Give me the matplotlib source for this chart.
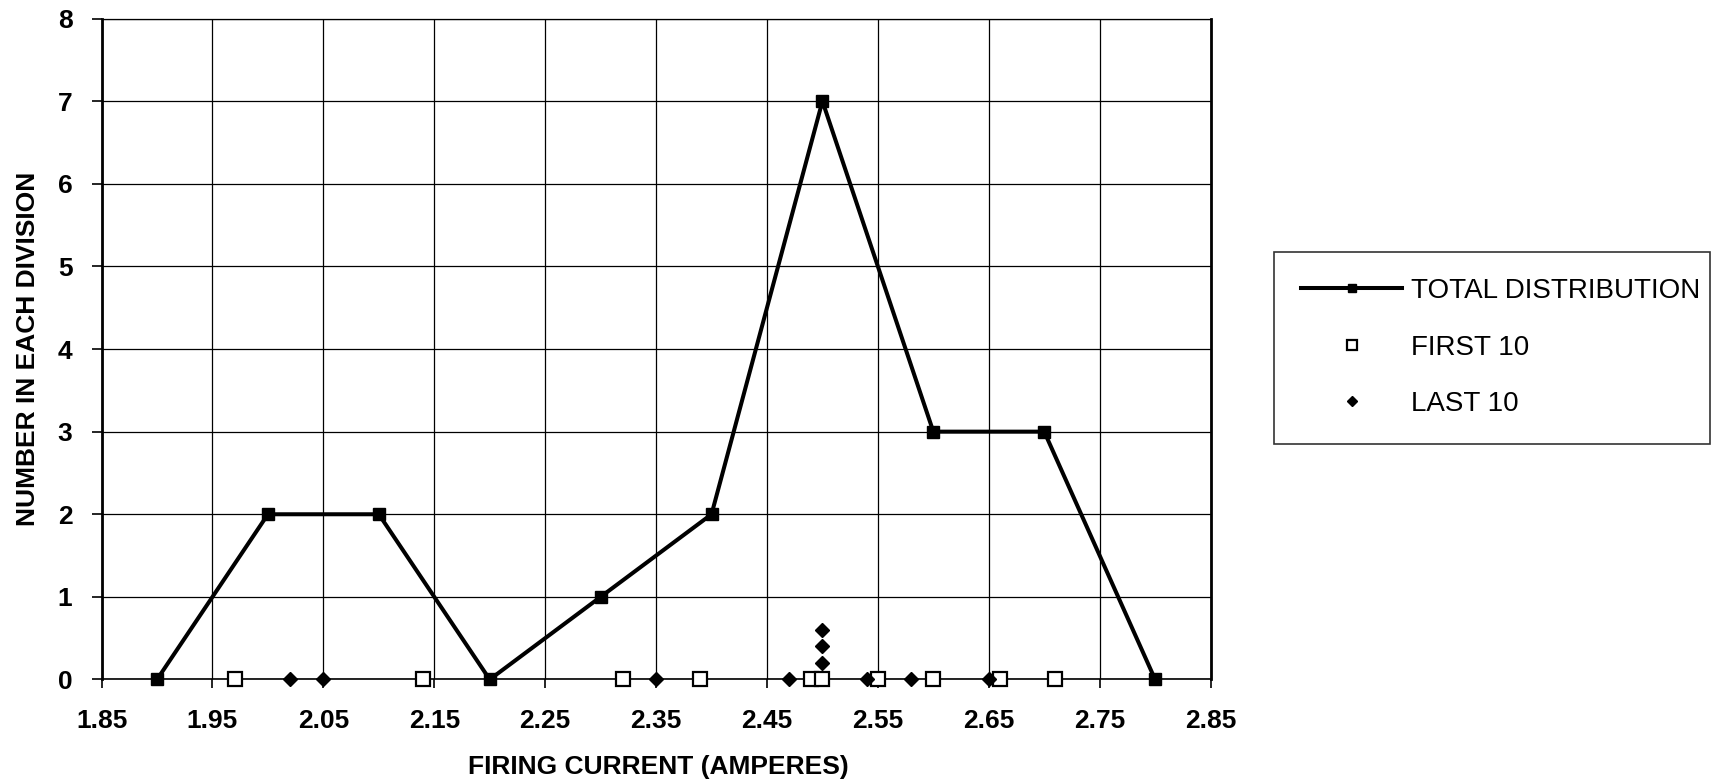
import matplotlib
matplotlib.use("Agg")
import matplotlib.pyplot as plt
from matplotlib.ticker import FixedLocator

plt.rcParams['font.family'] = ['Liberation Sans', 'DejaVu Sans']

# Data
total_x = [1.90, 2.00, 2.10, 2.20, 2.30, 2.40, 2.50, 2.60, 2.70, 2.80]
total_y = [0, 2, 2, 0, 1, 2, 7, 3, 3, 0]

first10_x = [1.97, 2.14, 2.32, 2.39, 2.49, 2.50, 2.55, 2.60, 2.66, 2.71]
first10_y = [0, 0, 0, 0, 0, 0, 0, 0, 0, 0]

last10_x = [2.02, 2.05, 2.35, 2.47, 2.50, 2.50, 2.50, 2.54, 2.58, 2.65]
last10_y = [0, 0, 0, 0, 0.2, 0.4, 0.6, 0, 0, 0]

x_ticks = [1.85, 1.95, 2.05, 2.15, 2.25, 2.35, 2.45, 2.55, 2.65, 2.75, 2.85]
y_ticks = [0, 1, 2, 3, 4, 5, 6, 7, 8]

labels = ["TOTAL DISTRIBUTION", "FIRST 10", "LAST 10"]

fig = plt.figure(figsize=(17.13, 7.84), dpi=100)
ax = fig.add_axes([0.0593, 0.1333, 0.7067 - 0.0593, 0.9763 - 0.1333])

ax.set_xlim(1.85, 2.85)
ax.set_ylim(0, 8)
ax.xaxis.set_major_locator(FixedLocator(x_ticks))
ax.yaxis.set_major_locator(FixedLocator(y_ticks))
ax.set_xticklabels([f"{v:.2f}" for v in x_ticks])
ax.set_yticklabels([str(v) for v in y_ticks])

ax.grid(True, color='black', linewidth=0.9)
ax.set_axisbelow(True)

for s in ['left', 'right']:
    ax.spines[s].set_linewidth(2.0)
ax.spines['top'].set_linewidth(0.9)
ax.spines['bottom'].set_linewidth(1.2)

ax.tick_params(axis='y', direction='out', length=7, width=1.2, pad=14,
               labelsize=19)
ax.tick_params(axis='x', direction='out', length=6.5, width=1.2, pad=15,
               labelsize=19)
for lab in ax.get_xticklabels() + ax.get_yticklabels():
    lab.set_fontweight('bold')

l1, = ax.plot(total_x, total_y, color='black', linewidth=2.9, marker='s',
              markersize=8.5, markerfacecolor='black', markeredgecolor='black',
              clip_on=False, zorder=4, label=labels[0])
l2, = ax.plot(first10_x, first10_y, linestyle='none', marker='s', markersize=10,
              markerfacecolor='white', markeredgecolor='black', markeredgewidth=1.6,
              clip_on=False, zorder=5, label=labels[1])
l3, = ax.plot(last10_x, last10_y, linestyle='none', marker='D', markersize=7,
              markerfacecolor='black', markeredgecolor='black',
              clip_on=False, zorder=6, label=labels[2])

ax.set_xlabel("FIRING CURRENT (AMPERES)", fontsize=19, fontweight='bold')
ax.set_ylabel("NUMBER IN EACH DIVISION", fontsize=19, fontweight='bold')
ax.xaxis.set_label_coords(0.502, -0.132)
ax.xaxis.label.set_va('center')
ax.yaxis.set_label_coords(-0.066, 0.5)
ax.yaxis.label.set_va('center')

leg = fig.legend(handles=[l1, l2, l3], labels=labels,
                 loc='upper left', bbox_to_anchor=(0.744, 0.436, 0.254, 0.243),
                 mode='expand', frameon=True, fancybox=False, fontsize=20,
                 handlelength=3.65, handletextpad=0.3, labelspacing=1.1,
                 borderpad=0.95, borderaxespad=0, markerscale=0.7)
leg.get_frame().set_edgecolor('black')
leg.get_frame().set_linewidth(1.2)

fig.savefig("out.png", dpi=100, facecolor='white')
